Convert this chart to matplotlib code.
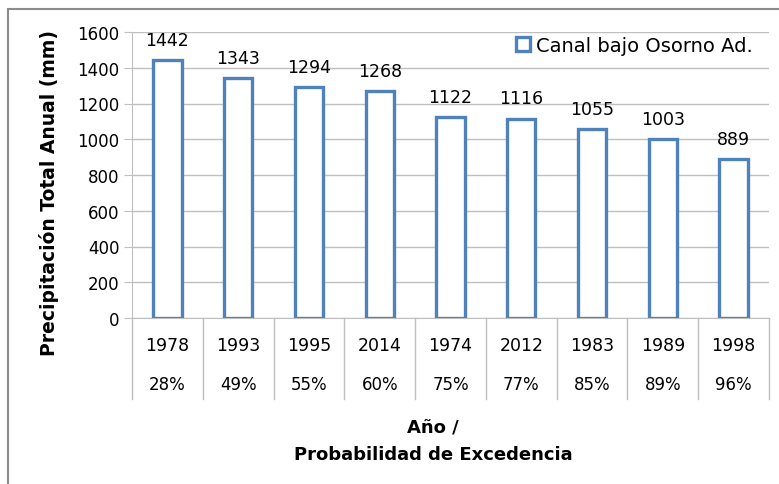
import matplotlib.pyplot as plt
import matplotlib.patches as mpatches
import numpy as np

# Data
years = ['1978', '1993', '1995', '2014', '1974', '2012', '1983', '1989', '1998']
exceed = ['28%', '49%', '55%', '60%', '75%', '77%', '85%', '89%', '96%']
precip = [1442, 1343, 1294, 1268, 1122, 1116, 1055, 1003, 889]
series_name = 'Canal bajo Osorno Ad.'

W, H = 779, 485
blue = '#4F81BD'
grid_c = '#BFBFBF'
plt.rcParams['font.family'] = ['DejaVu Sans']

fig = plt.figure(figsize=(W / 100, H / 100), dpi=100)
ax = fig.add_axes([132 / W, 1 - 319 / H, (769 - 132) / W, (319 - 33) / H])

# outer chart frame (right/bottom edges fall outside the image)
fig.patches.append(mpatches.Rectangle((8 / W, -0.1), 1.2, 1 - 10 / H + 0.1,
                                      transform=fig.transFigure, fill=False,
                                      edgecolor='#8C8C8C', linewidth=1.5))

x = np.arange(len(precip))
bars = ax.bar(x, precip, width=0.4, facecolor='white', edgecolor=blue,
              linewidth=2.4, label=series_name, zorder=3)

for xi, v in zip(x, precip):
    ax.annotate(str(v), (xi, v), xytext=(0, 8), textcoords='offset points',
                ha='center', va='bottom', fontsize=12.5)

ax.set_xlim(-0.5, len(precip) - 0.5)
ax.set_ylim(0, 1600)
ax.set_yticks(range(0, 1601, 200))
ax.yaxis.grid(True, color=grid_c, linewidth=1)
ax.set_axisbelow(True)
ax.tick_params(axis='y', labelsize=12, length=6, color=grid_c, pad=3)
ax.set_xticks([])
for s in ['top', 'right']:
    ax.spines[s].set_visible(False)
ax.spines['left'].set_color(grid_c)
ax.spines['bottom'].set_color(grid_c)

# multi-level category labels
for xi, yr, pc in zip(x, years, exceed):
    ax.text(xi, -0.094, yr, transform=ax.get_xaxis_transform(), ha='center',
            va='center', fontsize=12.5)
    ax.text(xi, -0.231, pc, transform=ax.get_xaxis_transform(), ha='center',
            va='center', fontsize=12)
for b in np.arange(len(precip) + 1) - 0.5:
    ax.plot([b, b], [0, -0.283], transform=ax.get_xaxis_transform(),
            color=grid_c, linewidth=1, clip_on=False)

fig.text(433 / W, 1 - 428 / H, 'Año /', ha='center', va='center',
         fontsize=13, fontweight='bold')
fig.text(433 / W, 1 - 455 / H, 'Probabilidad de Excedencia', ha='center',
         va='center', fontsize=13, fontweight='bold')
fig.text(49 / W, 1 - 193 / H, 'Precipitación Total Anual (mm)', rotation=90,
         ha='center', va='center', fontsize=13.5, fontweight='bold')

ax.legend(loc='upper right', bbox_to_anchor=(761 / W, 1 - 29 / H),
          bbox_transform=fig.transFigure, frameon=False, fontsize=14,
          handlelength=0.7, handleheight=0.7, handletextpad=0.35,
          borderaxespad=0)

fig.savefig('out.png', dpi=100)
